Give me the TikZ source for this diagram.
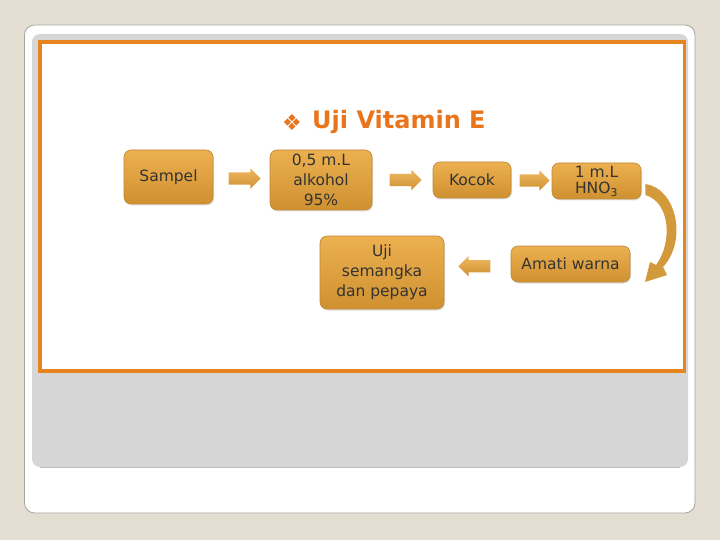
\documentclass[tikz,border=0pt]{standalone}
\usepackage{fontspec}
\setmainfont{DejaVu Sans}
\usetikzlibrary{shapes.arrows,shadows,arrows.meta,calc}
\definecolor{bgbeige}{HTML}{E3DDD2}
\definecolor{cardline}{HTML}{A8A49C}
\definecolor{panelgrey}{HTML}{D6D6D6}
\definecolor{panelline}{HTML}{BDBDBD}
\definecolor{frameorange}{HTML}{E6841F}
\definecolor{boxtop}{HTML}{EDB050}
\definecolor{boxbot}{HTML}{CF9130}
\definecolor{boxline}{HTML}{C08838}
\definecolor{arrowgold}{HTML}{D39A3C}
\definecolor{titleorange}{HTML}{E8741C}
\tikzset{
  flowbox/.style={rounded corners=7pt, top color=boxtop, bottom color=boxbot,
    draw=boxline, line width=0.6pt, align=center, font=\fontsize{15.5}{20}\selectfont,
    text=black!80, inner sep=2pt, drop shadow={shadow xshift=1pt, shadow yshift=-1.5pt, opacity=0.25}},
  blockarrow/.style={single arrow, draw=none, top color=boxtop!90, bottom color=boxbot,
    minimum height=32pt, inner xsep=0pt, inner ysep=6pt, single arrow head extend=4pt,
    single arrow head indent=0pt}
}
\begin{document}
\begin{tikzpicture}[x=1pt,y=-1pt]
\useasboundingbox (0,0) rectangle (720,540);
\fill[bgbeige] (0,0) rectangle (720,540);
% card
\draw[cardline, fill=white, rounded corners=10pt, line width=0.8pt] (24.5,25) rectangle (695,513);
% grey panel
\fill[panelgrey, rounded corners=8pt] (32,34) rectangle (688,467);
\draw[panelline, line width=0.6pt] (40,467) -- (680,467);
% orange frame
\draw[frameorange, fill=white, line width=3.6pt] (40,42) rectangle (684.5,371);
% title
\node (bullet) at (292,123) {\textcolor{titleorange}{\fontsize{22}{22}\selectfont ❖}};
\node[anchor=west, inner sep=0pt] (title) at (312,122) {\textcolor{titleorange}{\fontsize{24}{24}\selectfont\bfseries Uji Vitamin E}};
% boxes
\node[flowbox, minimum width=89pt, minimum height=54pt] (sampel) at (168.5,177) {Sampel};
\node[flowbox, minimum width=102pt, minimum height=60pt] (alk) at (321,180) {0,5 m.L\\alkohol\\95\%};
\node[flowbox, minimum width=78pt, minimum height=36pt] (kocok) at (472,180) {Kocok};
\node[flowbox, minimum width=89pt, minimum height=36pt] (hno) at (596.5,181) {1 m.L\\[-4pt]HNO\textsubscript{3}};
\node[flowbox, minimum width=119pt, minimum height=36pt] (amati) at (570.5,264) {Amati warna};
\node[flowbox, minimum width=124pt, minimum height=73pt] (uji) at (382,272.5) {Uji\\semangka\\dan pepaya};
% block arrows
\node[blockarrow] (a1) at ($(sampel.east)!0.5!(alk.west)$) {};
\node[blockarrow] (a2) at ($(alk.east)!0.5!(kocok.west)$) {};
\node[blockarrow, minimum height=30pt] (a3) at ($(kocok.east)!0.5!(hno.west)$) {};
\node[blockarrow, shape border rotate=180] (a4) at ($(uji.east)!0.5!(amati.west)+(0,-2)$) {};
% curved arrow
\coordinate (cstart) at ($(hno.east)+(4,3)$);
\fill[arrowgold] (cstart) .. controls (676,188) and (688,240) .. (663,267)
  -- (667,275) -- (645,282) -- (650,262) -- (656,265)
  .. controls (673,242) and (670,202) .. ($(cstart)+(0,11)$) -- cycle;
\end{tikzpicture}
\end{document}
